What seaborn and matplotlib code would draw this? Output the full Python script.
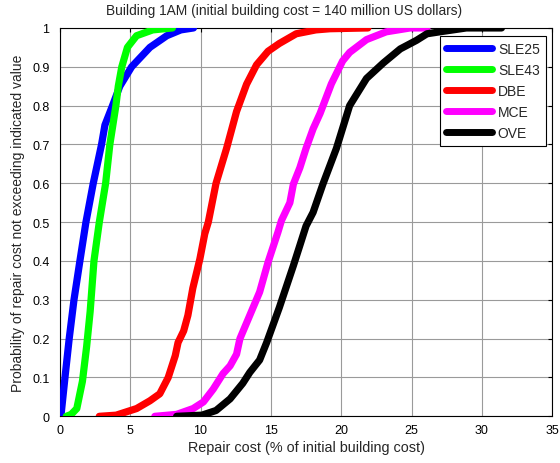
import matplotlib
matplotlib.use("Agg")
import matplotlib.pyplot as plt
import seaborn as sns
import pandas as pd

# Series data: repair cost (%) and cumulative probability
sle25_x = [0.0, 0.07, 0.36, 0.66, 1.0, 1.42, 1.85, 2.37, 2.96, 3.2, 3.74, 4.26, 5.1, 6.4, 7.6, 8.6, 9.5]
sle25_p = [0.0, 0.0, 0.1, 0.2, 0.3, 0.4, 0.5, 0.6, 0.7, 0.75, 0.8, 0.85, 0.9, 0.95, 0.98, 0.995, 1.0]

sle43_x = [0.45, 0.8, 1.2, 1.6, 1.9, 2.15, 2.42, 2.8, 3.25, 3.55, 3.98, 4.15, 4.4, 4.8, 5.45, 6.6, 8.0]
sle43_p = [0.0, 0.005, 0.02, 0.09, 0.18, 0.27, 0.4, 0.5, 0.6, 0.7, 0.8, 0.85, 0.9, 0.95, 0.98, 0.995, 1.0]

dbe_x = [2.8, 4.0, 5.45, 6.4, 7.1, 7.7, 8.2, 8.4, 8.8, 9.1, 9.45, 9.95, 10.3, 10.55, 11.1, 11.85,
         12.56, 13.27, 13.98, 14.8, 15.6, 16.8, 18.2, 19.2, 21.9]
dbe_p = [0.0, 0.003, 0.02, 0.04, 0.058, 0.1, 0.156, 0.19, 0.22, 0.26, 0.33, 0.405, 0.47, 0.5, 0.6, 0.69,
         0.785, 0.855, 0.905, 0.94, 0.96, 0.985, 0.995, 0.998, 1.0]

mce_x = [6.75, 8.3, 9.47, 10.2, 10.9, 11.6, 12.1, 12.56, 12.8, 13.5, 14.2, 14.8, 15.5, 15.75, 16.35,
         16.6, 17.06, 17.5, 18.0, 18.5, 19.3, 20.1, 20.6, 21.8, 23.2, 24.9, 26.1]
mce_p = [0.0, 0.005, 0.02, 0.037, 0.07, 0.11, 0.13, 0.16, 0.2, 0.26, 0.32, 0.397, 0.474, 0.504, 0.55,
         0.598, 0.64, 0.69, 0.74, 0.78, 0.856, 0.915, 0.937, 0.97, 0.99, 1.0, 1.0]

ove_x = [8.3, 10.1, 11.1, 12.1, 13.0, 13.5, 14.2, 14.7, 15.6, 16.6, 17.06, 17.5, 18.0, 18.7, 19.66,
         20.6, 21.8, 23.0, 24.2, 25.35, 26.1, 27.0, 28.9, 31.4]
ove_p = [0.0, 0.003, 0.015, 0.045, 0.085, 0.113, 0.145, 0.19, 0.28, 0.388, 0.44, 0.49, 0.525, 0.598, 0.69,
         0.8, 0.87, 0.91, 0.946, 0.968, 0.985, 0.99, 1.0, 1.0]

series_names = ["SLE25", "SLE43", "DBE", "MCE", "OVE"]
series_colors = ["#0000ff", "#00ff00", "#ff0000", "#ff00ff", "#000000"]
x_ticks = [0, 5, 10, 15, 20, 25, 30, 35]
y_ticks = [0, 0.1, 0.2, 0.3, 0.4, 0.5, 0.6, 0.7, 0.8, 0.9, 1]
y_tick_labels = ["0", "0.1", "0.2", "0.3", "0.4", "0.5", "0.6", "0.7", "0.8", "0.9", "1"]

frames = []
for name, xs, ps in zip(series_names,
                        [sle25_x, sle43_x, dbe_x, mce_x, ove_x],
                        [sle25_p, sle43_p, dbe_p, mce_p, ove_p]):
    frames.append(pd.DataFrame({"cost": xs, "prob": ps, "case": name}))
df = pd.concat(frames, ignore_index=True)

sns.set_style("white")
plt.rcParams["font.family"] = ["Liberation Sans", "DejaVu Sans"]

fig = plt.figure(figsize=(5.6, 4.64), dpi=100)
ax = fig.add_axes([0.107, 0.1006, 0.879, 0.837])

sns.lineplot(data=df, x="cost", y="prob", hue="case", hue_order=series_names,
             palette=dict(zip(series_names, series_colors)), estimator=None,
             sort=False, units="case", linewidth=5.2, ax=ax,
             solid_capstyle="round", solid_joinstyle="round", zorder=3)

ax.set_xlim(0, 35)
ax.set_ylim(0, 1)
ax.set_xticks(x_ticks)
ax.set_yticks(y_ticks)
ax.set_yticklabels(y_tick_labels)
ax.grid(True, color="#9a9a9a", linewidth=0.8, linestyle="-")
ax.set_axisbelow(True)
for s in ax.spines.values():
    s.set_color("black")
    s.set_linewidth(0.8)
ax.tick_params(direction="in", length=3, width=0.8, top=True, right=True,
               labelsize=9, colors="black")
ax.tick_params(axis="x", pad=5.5)
ax.tick_params(axis="y", pad=7.5)

ax.set_xlabel("Repair cost (% of initial building cost)", fontsize=10.4, labelpad=3)
ax.set_ylabel("Probability of repair cost not exceeding indicated value", fontsize=10, labelpad=5)
fig.text(284 / 560, 1 - 11 / 464, "Building 1AM (initial building cost = 140 million US dollars)",
         fontsize=9.9, ha="center", va="center")

leg = ax.legend(loc="upper right", fontsize=10, frameon=True, fancybox=False, edgecolor="black",
                handlelength=3.3, bbox_to_anchor=(546 / 560, 1 - 37 / 464),
                bbox_transform=fig.transFigure, borderaxespad=0, labelspacing=0.5,
                borderpad=0.45, handletextpad=0.45, framealpha=1)
leg.get_frame().set_linewidth(0.8)
for line in leg.get_lines():
    line.set_linewidth(5)

fig.savefig("out.png", dpi=100)
